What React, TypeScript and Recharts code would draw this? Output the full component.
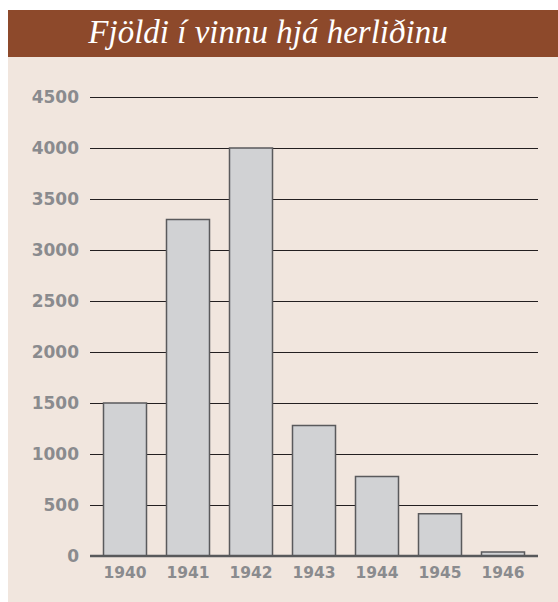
import { BarChart, Bar, XAxis, YAxis, CartesianGrid } from "recharts";

const years = ["1940", "1941", "1942", "1943", "1944", "1945", "1946"];
const workers = [1500, 3300, 4000, 1280, 780, 415, 40];
const yTicks = [0, 500, 1000, 1500, 2000, 2500, 3000, 3500, 4000, 4500];

const data = years.map((year, i) => ({ year, workers: workers[i] }));

const tickFont = "'DejaVu Sans', sans-serif";

export default function App() {
  return (
    <div
      style={{
        position: "absolute",
        left: 8,
        top: 10,
        width: 550,
        height: 592,
        background: "#f1e6de",
      }}
    >
      <div
        style={{
          position: "relative",
          height: 47,
          background: "#8d492b",
        }}
      >
        <span
          style={{
            position: "absolute",
            left: 260,
            top: 2,
            transform: "translateX(-50%)",
            whiteSpace: "nowrap",
            color: "#ffffff",
            fontFamily: "'Liberation Serif', serif",
            fontStyle: "italic",
            fontSize: 33,
            lineHeight: "40px",
          }}
        >
          Fjöldi í vinnu hjá herliðinu
        </span>
      </div>
      <BarChart
        width={550}
        height={545}
        data={data}
        margin={{ top: 40, right: 20, left: 0, bottom: 16 }}
        barSize={43}
      >
        <CartesianGrid
          vertical={false}
          stroke="#231f20"
          strokeWidth={1}
          shapeRendering="crispEdges"
        />
        <XAxis
          dataKey="year"
          padding={{ left: 3.5, right: 3.5 }}
          height={30}
          tickLine={false}
          tickSize={0}
          tickMargin={11}
          axisLine={{ stroke: "#58595b", strokeWidth: 2.5 }}
          tick={{ fill: "#8a8b8e", fontSize: 15.5, fontWeight: 700, fontFamily: tickFont }}
        />
        <YAxis
          width={82}
          domain={[0, 4500]}
          ticks={yTicks}
          interval={0}
          axisLine={false}
          tickLine={false}
          tickSize={0}
          tickMargin={11}
          tick={{ fill: "#8a8b8e", fontSize: 17, fontWeight: 700, fontFamily: tickFont }}
        />
        <Bar
          dataKey="workers"
          fill="#d1d2d4"
          stroke="#5a5a5c"
          strokeWidth={1.5}
          isAnimationActive={false}
        />
      </BarChart>
    </div>
  );
}
